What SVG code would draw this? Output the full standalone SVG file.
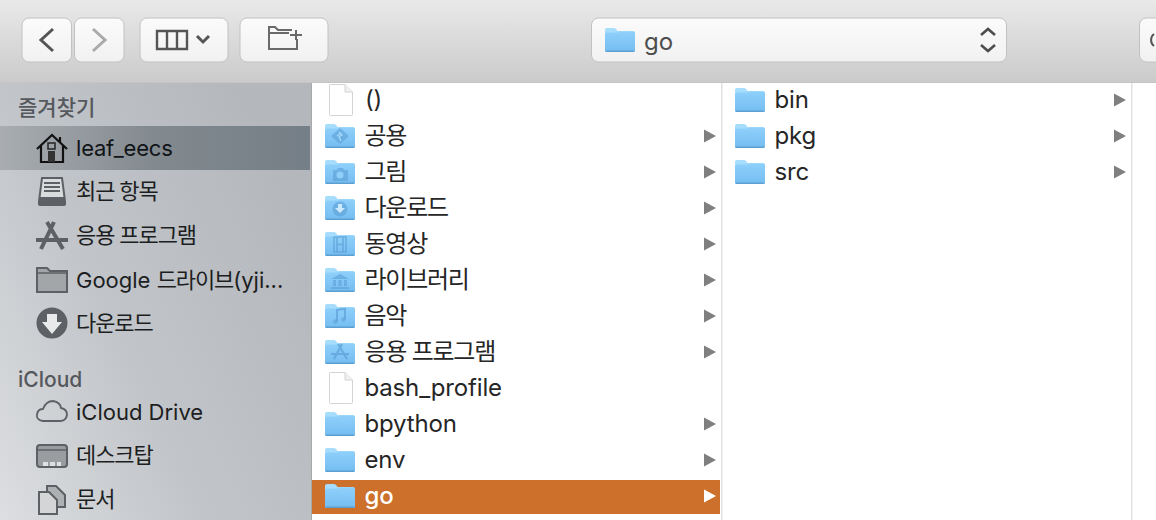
<svg xmlns="http://www.w3.org/2000/svg" width="1156" height="520" viewBox="0 0 1156 520">
<style>
text{font-family:"Inter","Noto Sans CJK KR",sans-serif;}
.s{font-size:22px;fill:#1c1e21}
.h{font-size:21px;fill:#55585c;font-weight:500}
.f{font-size:24px;fill:#262626;letter-spacing:-.15px}
.ks{letter-spacing:-1.1px}
.kf{letter-spacing:-1.25px}
.btn{fill:url(#btn);stroke:#c2c2c2;stroke-width:1}
.ic{fill:none;stroke:#555;stroke-width:2.4}
.sbl{fill:none;stroke:#37393c;stroke-width:2}
.gl{fill:#5b9fd6;opacity:.6}
.gs{fill:none;stroke:#5b9fd6;stroke-width:1.6;opacity:.7}
</style>
<defs>
<linearGradient id="tb" x1="0" y1="0" x2="0" y2="1"><stop offset="0" stop-color="#e9e9e9"/><stop offset="1" stop-color="#cbcbcb"/></linearGradient>
<linearGradient id="btn" x1="0" y1="0" x2="0" y2="1"><stop offset="0" stop-color="#fbfbfb"/><stop offset="1" stop-color="#f1f1f1"/></linearGradient>
<linearGradient id="side" x1="0" y1="1" x2="1" y2="0.35"><stop offset="0" stop-color="#dcdee1"/><stop offset=".45" stop-color="#c2c5c9"/><stop offset="1" stop-color="#b4b8bc"/></linearGradient>
<linearGradient id="sel" x1="0" y1="0" x2="1" y2="0"><stop offset="0" stop-color="#a9adb1"/><stop offset=".5" stop-color="#82898f"/><stop offset="1" stop-color="#757f87"/></linearGradient>
<linearGradient id="fb" x1="0" y1="0" x2="0" y2="1"><stop offset="0" stop-color="#8fd0fb"/><stop offset="1" stop-color="#74bdf1"/></linearGradient>
<symbol id="folder" viewBox="0 0 30 24" width="30" height="24" overflow="visible">
<path d="M0 2Q0 0 2 0H9Q10.500 0 11.500 1.500L12.500 3H28Q30 3 30 5V22Q30 24 28 24H2Q0 24 0 22Z" fill="#a6dcfc"/>
<path d="M0 6Q0 4.500 2 4.500H12.500L14 3.500H28Q30 3.500 30 5.500V22Q30 24 28 24H2Q0 24 0 22Z" fill="url(#fb)"/>
<path d="M0 22.500H30V22Q30 24 28 24H2Q0 24 0 22Z" fill="#5c9fd0"/>
</symbol>
<symbol id="doc" viewBox="0 0 24 32" width="24" height="32" overflow="visible">
<path d="M1 .5H16L23.500 8V30.500Q23.500 31.500 22.500 31.500H1.500Q.5 31.500 .5 30.500V1.500Q.5 .5 1 .5Z" fill="#fff" stroke="#d4d4d4"/>
<path d="M16 .5V8H23.500" fill="#f1f1f1" stroke="#d4d4d4"/>
</symbol>
<path id="arr" d="M0-6.500L12 0L0 6.500Z"/>
</defs>

<g id="toolbar">
<rect width="1156" height="82" fill="url(#tb)"/>
<rect y="82" width="1156" height="1" fill="#c4c4c4"/>
<rect class="btn" x="22" y="18" width="49.500" height="44" rx="7"/>
<path d="M53 29L41 40L53 51" fill="none" stroke="#555" stroke-width="3"/>
<rect class="btn" x="74.500" y="18" width="49.500" height="44" rx="7"/>
<path d="M93 29L105 40L93 51" fill="none" stroke="#aaa" stroke-width="3"/>
<rect class="btn" x="140" y="18" width="88" height="44" rx="7"/>
<path class="ic" d="M157 31H187V49H157ZM167 31V49M177 31V49"/>
<path d="M197 36L203 42L209 36" fill="none" stroke="#555" stroke-width="3"/>
<rect class="btn" x="240" y="18" width="88" height="44" rx="7"/>
<path d="M292 30H278L275 27H269V49H297V39M269 33H289M290 35H302M296 30V40" fill="none" stroke="#6a6a6a" stroke-width="2"/>
<rect class="btn" x="591.500" y="18" width="415" height="44" rx="7"/>
<use href="#folder" x="605" y="28"/>
<text x="644" y="50" style="font-size:24px;fill:#4d4d4d">go</text>
<path d="M981 35L988 29L995 35M981 45L988 51L995 45" fill="none" stroke="#4d4d4d" stroke-width="2.600"/>
<rect class="btn" x="1139.500" y="18" width="40" height="44" rx="7"/>
<path d="M1154 34A6 7 0 0 0 1154 46" fill="none" stroke="#555" stroke-width="2"/>
</g>

<g id="sidebar">
<rect y="83" width="311" height="437" fill="url(#side)"/>
<rect x="311" y="83" width="1" height="437" fill="#a9a9a9"/>
<rect y="126" width="310" height="44" fill="url(#sel)"/>
<text x="18" y="115" class="h">즐겨찾기</text>
<text x="18" y="387" class="h">iCloud</text>
<g id="nav-home">
<path class="sbl" d="M37 149L52 135L67 149M41 146V162H63V146M60 137V142" style="stroke:#111;stroke-width:2.200"/>
<rect x="48" y="143" width="7" height="6" fill="none" stroke="#222" stroke-width="1.500"/>
<rect x="48" y="151" width="7" height="11" fill="#333"/>
<text x="76" y="156" class="s" style="fill:#111417;letter-spacing:-.2px">leaf_eecs</text>
</g>
<g id="nav-recents">
<path d="M42 178H62L65 201V204Q65 205 63 205H41Q39 205 39 204V201Z" fill="#d9dbdd" stroke="#5d6064" stroke-width="2"/>
<path d="M39 197H65V202Q65 205 62 205H42Q39 205 39 202Z" fill="#5d6064"/>
<path d="M44 183H60M44 187H60M44 191H60" stroke="#5d6064" stroke-width="1.800"/>
<text x="76" y="199" class="s ks">최근 항목</text>
</g>
<g id="nav-apps">
<path d="M47 222L63 249M54 222L41 249M36 240H68" stroke="#5d6064" stroke-width="4" fill="none"/>
<text x="76" y="243" class="s ks">응용 프로그램</text>
</g>
<g id="nav-drive">
<path d="M37 268H47L50 271H67V292H37Z" fill="#a3a6a9" stroke="#5d6064" stroke-width="2"/>
<path d="M37 273H67" stroke="#5d6064" stroke-width="1.500"/>
<text x="76" y="288" class="s">Google <tspan class="ks">드라이브</tspan>(yji...</text>
</g>
<g id="nav-down">
<circle cx="52" cy="323" r="15.500" fill="#5d6064"/>
<path d="M47 314H57V322H62L52 334L42 322H47Z" fill="#e8e9ea"/>
<text x="76" y="331" class="s ks">다운로드</text>
</g>
<g id="nav-icloud">
<path d="M43 421Q36 420 37 414Q38 409 43 409Q46 401 53 401Q60 402 61 408Q67 409 67 415Q66 421 60 421Z" fill="none" stroke="#5d6064" stroke-width="1.800"/>
<text x="76" y="420" class="s">iCloud Drive</text>
</g>
<g id="nav-desktop">
<rect x="37" y="445" width="30" height="22" rx="3" fill="#9a9da0" stroke="#5d6064" stroke-width="2"/>
<path d="M37 450H67" stroke="#5d6064" stroke-width="1.500"/>
<path d="M43 462h5v4h-5zM50 462h5v4h-5zM57 462h4v4h-4z" fill="#e0e0e0"/>
<text x="76" y="463" class="s ks">데스크탑</text>
</g>
<g id="nav-docs">
<path d="M47 486H56L65 495V507H47Z" fill="#aeb1b4" stroke="#5d6064" stroke-width="2"/>
<path d="M39 492H49L57 500V514H39Z" fill="#d3d5d7" stroke="#5d6064" stroke-width="2"/>
<text x="76" y="507" class="s ks">문서</text>
</g>
</g>

<g id="columns">
<rect x="312" y="83" width="844" height="437" fill="#fff"/>
<rect x="721" y="83" width="1.500" height="437" fill="#e2e2e2"/>
<rect x="1131" y="83" width="1.500" height="437" fill="#e2e2e2"/>
<rect x="312" y="480" width="408" height="34" fill="#cc702c"/>
</g>

<g id="col1" fill="#7f7f7f">
<g id="row-paren"><use href="#doc" x="329" y="84"/><text x="365" y="108" class="f">()</text></g>
<g id="row-public"><use href="#folder" x="325" y="124"/><path class="gl" d="M340 128L349 136L340 144L331 136Z"/><path d="M339 132L342 135L339 137L341 141M337 136L340 134" fill="none" stroke="#a6dcfc" stroke-width="1.200"/><text x="364.500" y="144" class="f kf">공용</text><use href="#arr" x="704" y="136"/></g>
<g id="row-pictures"><use href="#folder" x="325" y="160"/><path class="gl" d="M333 170H337L338 168H343L344 170H348V181H333Z"/><circle cx="340" cy="175" r="3.500" fill="#8fd0fb"/><text x="364.500" y="180" class="f kf">그림</text><use href="#arr" x="704" y="172"/></g>
<g id="row-downloads"><use href="#folder" x="325" y="196"/><circle class="gl" cx="340" cy="209" r="7.500"/><path d="M338 204H342V208H345L340 213L335 208H338Z" fill="#cde9fd"/><text x="364.500" y="216" class="f kf">다운로드</text><use href="#arr" x="704" y="208"/></g>
<g id="row-movies"><use href="#folder" x="325" y="232"/><path class="gs" d="M334 237H346V252H334ZM337 237V252M343 237V252M337 244.500H343"/><text x="364.500" y="252" class="f kf">동영상</text><use href="#arr" x="704" y="244"/></g>
<g id="row-library"><use href="#folder" x="325" y="268"/><path class="gl" d="M340 274L349 279H331ZM333 280H336V286H333ZM338.500 280H341.500V286H338.500ZM344 280H347V286H344ZM331 287H349V289H331Z"/><text x="364.500" y="288" class="f kf">라이브러리</text><use href="#arr" x="704" y="280"/></g>
<g id="row-music"><use href="#folder" x="325" y="304"/><path class="gs" d="M337 321V310L345 309V319" style="stroke-width:2"/><circle class="gl" cx="335.500" cy="321.500" r="2.200"/><circle class="gl" cx="343.500" cy="319.500" r="2.200"/><text x="364.500" y="324" class="f kf">음악</text><use href="#arr" x="704" y="316"/></g>
<g id="row-apps"><use href="#folder" x="325" y="340"/><path class="gs" d="M338 344L347 359M342 344L334 359M331 354H349" style="stroke-width:2.200"/><text x="364.500" y="360" class="f kf">응용 프로그램</text><use href="#arr" x="704" y="352"/></g>
<g id="row-bash"><use href="#doc" x="329" y="372"/><text x="364.500" y="396" class="f">bash_profile</text></g>
<g id="row-bpython"><use href="#folder" x="325" y="412"/><text x="364.500" y="432" class="f">bpython</text><use href="#arr" x="704" y="424"/></g>
<g id="row-env"><use href="#folder" x="325" y="448"/><text x="364.500" y="468" class="f">env</text><use href="#arr" x="704" y="460"/></g>
<g id="row-go"><use href="#folder" x="325" y="484"/><text x="364.500" y="504" class="f" style="fill:#fff;font-weight:500">go</text><use href="#arr" x="704" y="496" fill="#fff"/></g>
</g>

<g id="col2" fill="#7f7f7f">
<g id="row-bin"><use href="#folder" x="735" y="88"/><text x="774.500" y="108" class="f">bin</text><use href="#arr" x="1114" y="100"/></g>
<g id="row-pkg"><use href="#folder" x="735" y="124"/><text x="774.500" y="144" class="f">pkg</text><use href="#arr" x="1114" y="136"/></g>
<g id="row-src"><use href="#folder" x="735" y="160"/><text x="774.500" y="180" class="f">src</text><use href="#arr" x="1114" y="172"/></g>
</g>
</svg>
